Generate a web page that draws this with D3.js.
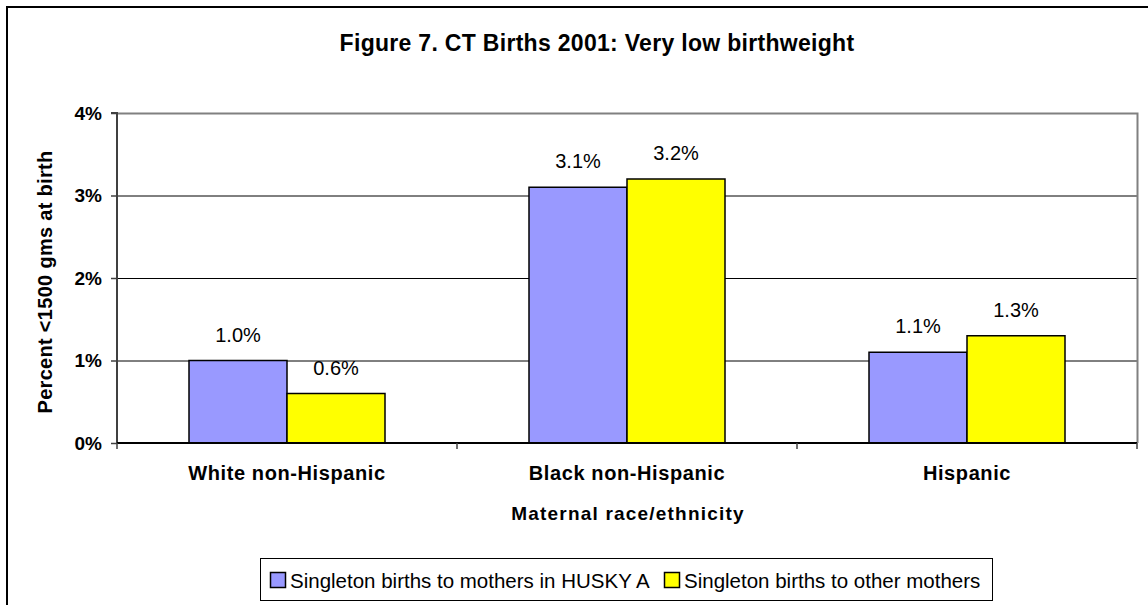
<!DOCTYPE html>
<html><head><meta charset="utf-8">
<script src="https://cdn.jsdelivr.net/npm/d3@7"></script>
<style>body{margin:0;background:#fff}svg{display:block;font-family:"Liberation Sans",Arial,sans-serif}</style>
</head><body>
<script>
const categories = ["White non-Hispanic", "Black non-Hispanic", "Hispanic"];
const seriesNames = ["Singleton births to mothers in HUSKY A", "Singleton births to other mothers"];
const huskyValues = [1.0, 3.1, 1.1];
const otherValues = [0.6, 3.2, 1.3];
const yTicks = [0, 1, 2, 3, 4];
const colors = ["#9999FF", "#FFFF00"];

const W = 1148, H = 605;
const svg = d3.select("body").append("svg").attr("width", W).attr("height", H);
svg.append("rect").attr("x", 7).attr("y", 7).attr("width", 1150).attr("height", 610)
  .attr("fill", "#fff").attr("stroke", "#000").attr("stroke-width", 2);

const L = 117, R = 1137, T = 113, B = 443;
const x = d3.scaleBand().domain(categories).range([L, R]);
const y = d3.scaleLinear().domain([0, 4]).range([B, T]);
const barW = 98;

// gridlines
svg.append("g").selectAll("line").data(yTicks.slice(1, 4)).join("line")
  .attr("x1", L).attr("x2", R).attr("y1", d => y(d) + 0.5).attr("y2", d => y(d) + 0.5)
  .attr("stroke", "#000").attr("stroke-width", 1);
// frame top/right gray
svg.append("path").attr("d", `M${L},${T + 0.5}H${R + 0.5}V${B}`).attr("fill", "none")
  .attr("stroke", "#808080").attr("stroke-width", 2);

// bars
const data = categories.map((c, i) => [huskyValues[i], otherValues[i]]);
const g = svg.append("g");
categories.forEach((c, i) => {
  const cx = x(c) + x.bandwidth() / 2;
  data[i].forEach((v, j) => {
    const bx = cx - barW + j * barW;
    g.append("rect").attr("x", bx).attr("y", y(v)).attr("width", barW).attr("height", B - y(v))
      .attr("fill", colors[j]).attr("stroke", "#000").attr("stroke-width", 1.5);
    g.append("text").attr("x", bx + barW / 2).attr("y", y(v) - 19)
      .attr("text-anchor", "middle").attr("font-size", 20).text(v.toFixed(1) + "%");
  });
});

// y axis
const yAxis = d3.axisLeft(y).tickValues(yTicks).tickFormat(d => d + "%").tickSize(6).tickPadding(9);
const ya = svg.append("g").attr("transform", `translate(${L},0)`).call(yAxis);
ya.select(".domain").attr("stroke", "#404040").attr("stroke-width", 2).attr("d", `M-6,${T}H0V${B}`);
ya.selectAll(".tick line").attr("stroke", "#404040").attr("stroke-width", 1.5);
ya.selectAll("text").attr("font-size", 19).attr("font-weight", "bold").attr("fill", "#000")
  .attr("font-family", "Liberation Sans, Arial, sans-serif");

// x axis
const xa = svg.append("g").attr("transform", `translate(0,${B})`);
xa.append("line").attr("x1", L).attr("x2", R).attr("y1", 0).attr("y2", 0).attr("stroke", "#000").attr("stroke-width", 2);
const bounds = [x(categories[0])].concat(categories.map(c => x(c) + x.bandwidth()));
xa.selectAll("line.t").data(bounds).join("line").attr("class", "t")
  .attr("x1", d => d).attr("x2", d => d).attr("y1", 0).attr("y2", 6).attr("stroke", "#404040").attr("stroke-width", 1.5);
xa.selectAll("text").data(categories).join("text")
  .attr("x", d => x(d) + x.bandwidth() / 2).attr("y", 37).attr("text-anchor", "middle")
  .attr("font-size", 20).attr("font-weight", "bold").attr("letter-spacing", 0.6).text(d => d);

// titles
svg.append("text").attr("x", 597).attr("y", 51).attr("text-anchor", "middle")
  .attr("font-size", 23).attr("font-weight", "bold").attr("letter-spacing", 0.3).text("Figure 7. CT Births 2001: Very low birthweight");
svg.append("text").attr("x", 628).attr("y", 520).attr("text-anchor", "middle")
  .attr("font-size", 19).attr("font-weight", "bold").attr("letter-spacing", 1.2).text("Maternal race/ethnicity");
svg.append("text").attr("transform", "translate(52,282) rotate(-90)").attr("text-anchor", "middle")
  .attr("font-size", 20).attr("font-weight", "bold").attr("letter-spacing", 0.3).text("Percent <1500 gms at birth");

// legend
const lg = svg.append("g");
lg.append("rect").attr("x", 260.5).attr("y", 558.5).attr("width", 732).attr("height", 42)
  .attr("fill", "#fff").attr("stroke", "#000").attr("stroke-width", 1);
const legX = [270, 664];
seriesNames.forEach((s, j) => {
  lg.append("rect").attr("x", legX[j] + 0.5).attr("y", 572.5).attr("width", 15).attr("height", 15)
    .attr("fill", colors[j]).attr("stroke", "#000").attr("stroke-width", 1.5);
  lg.append("text").attr("x", legX[j] + 20).attr("y", 588).attr("font-size", 20.5).text(s);
});
</script>
</body></html>
